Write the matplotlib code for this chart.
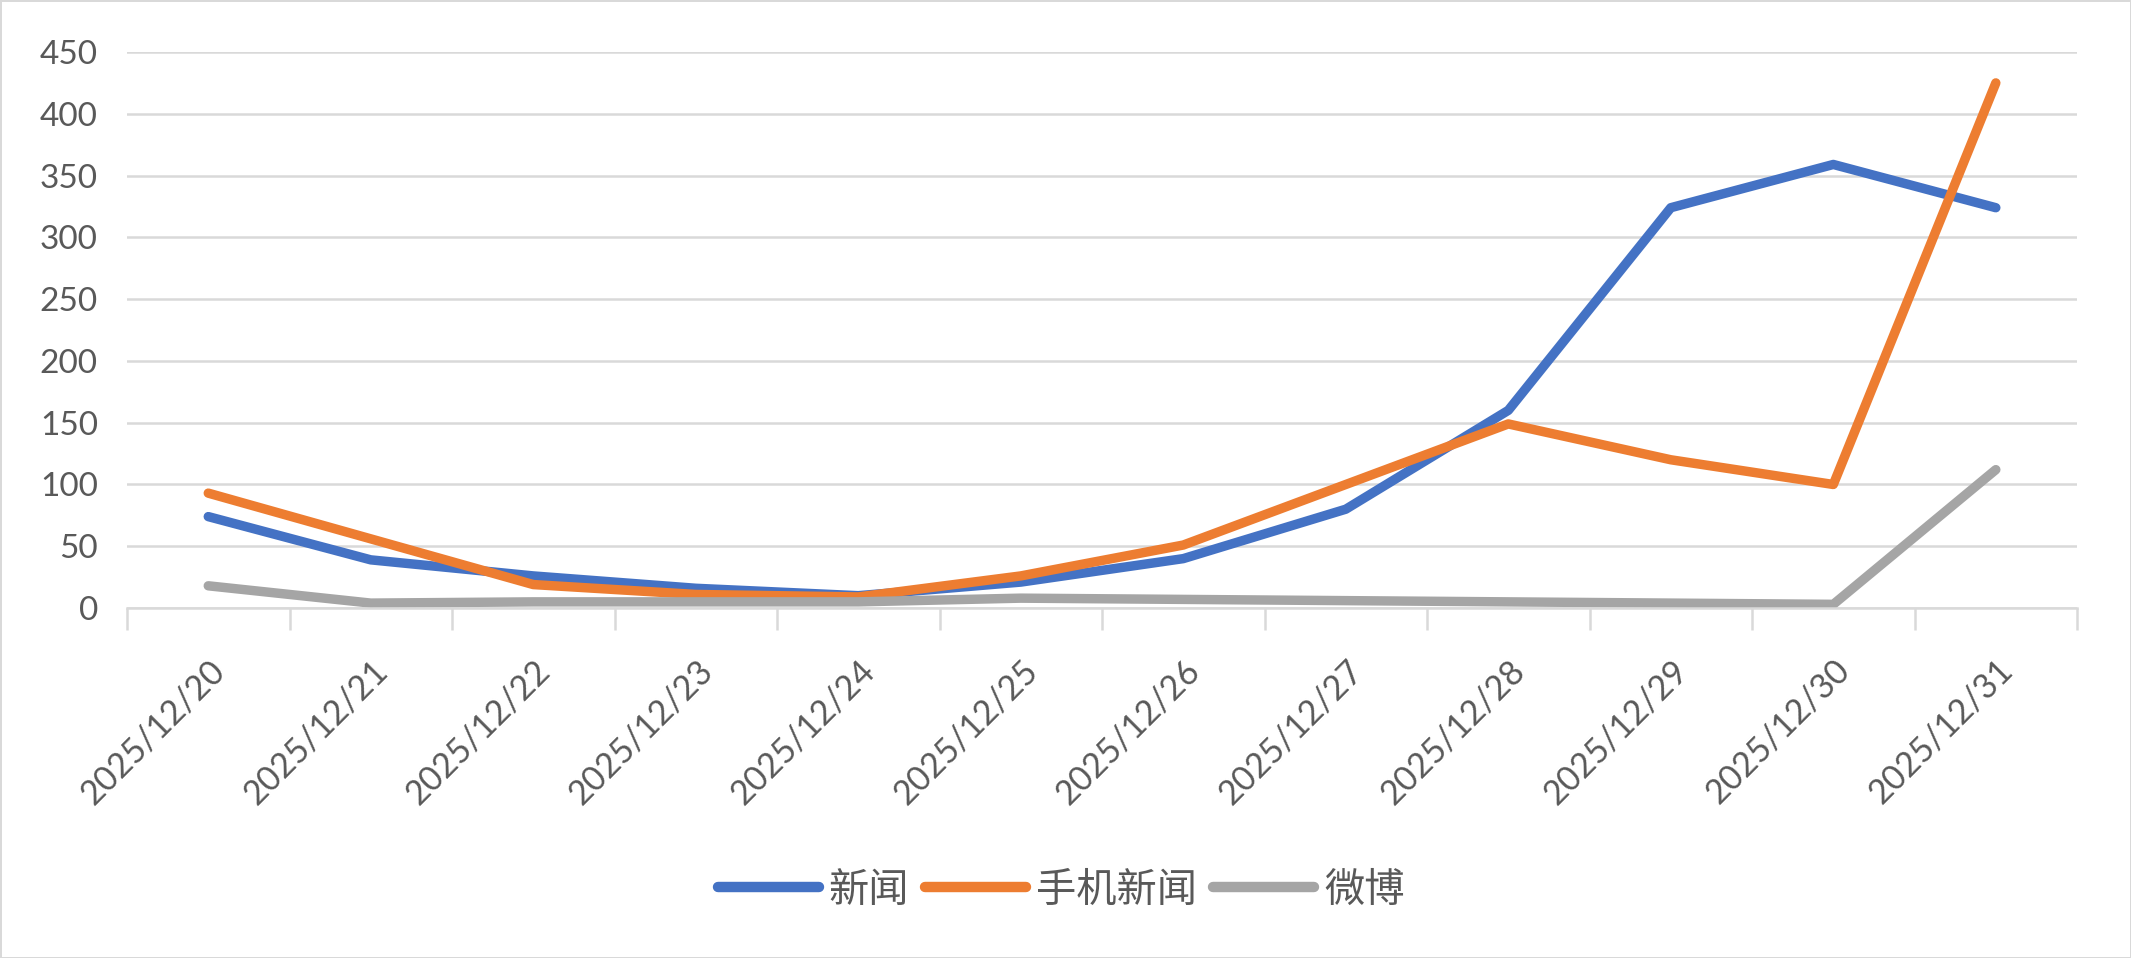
import matplotlib
matplotlib.use("Agg")
import matplotlib.pyplot as plt
from matplotlib.ticker import FixedLocator, NullFormatter

plt.rcParams['font.family'] = ['Lato', 'Noto Sans CJK SC', 'DejaVu Sans']

dates = ["2025/12/20", "2025/12/21", "2025/12/22", "2025/12/23", "2025/12/24", "2025/12/25",
         "2025/12/26", "2025/12/27", "2025/12/28", "2025/12/29", "2025/12/30", "2025/12/31"]
news = [74, 39, 26, 16, 10, 21, 40, 80, 160, 324, 359, 324]
mobile_news = [93, 56, 19, 11, 9, 26, 51, 100, 149, 120, 100, 425]
weibo = [18, 4, 5, 5, 5, 8, 7, 6, 5, 4, 3, 112]
yticks = [0, 50, 100, 150, 200, 250, 300, 350, 400, 450]

series = [("新闻", news, "#4472C4"),
          ("手机新闻", mobile_news, "#ED7D31"),
          ("微博", weibo, "#A5A5A5")]

fig = plt.figure(figsize=(21.31, 9.58), dpi=100)
fig.patch.set_facecolor("white")
fig.patch.set_edgecolor("#D9D9D9")
fig.patch.set_linewidth(2)

ax = fig.add_axes([0.0596, 0.3653, 0.9151, 0.5804])
x = list(range(len(dates)))
for name, vals, col in series:
    ax.plot(x, vals, color=col, lw=6.8, solid_capstyle="round",
            solid_joinstyle="round", label=name)

ax.set_xlim(-0.5, len(dates) - 0.5)
ax.set_ylim(0, 450)
ax.set_yticks(yticks)
ax.yaxis.grid(True, color="#D9D9D9", lw=1.8)
ax.set_axisbelow(True)
for s in ["left", "right", "top"]:
    ax.spines[s].set_visible(False)
ax.spines["bottom"].set_color("#D9D9D9")
ax.spines["bottom"].set_linewidth(1.8)

ax.set_xticks(x)
ax.set_xticklabels(dates, rotation=45, ha="right", rotation_mode="anchor")
ax.xaxis.set_minor_locator(FixedLocator([i - 0.5 for i in range(len(dates) + 1)]))
ax.xaxis.set_minor_formatter(NullFormatter())
ax.tick_params(axis="x", which="major", length=0, pad=33, labelsize=24.5, labelcolor="#595959")
ax.tick_params(axis="x", which="minor", length=16, width=1.8, color="#D9D9D9")
ax.tick_params(axis="y", length=0, pad=21, labelsize=24, labelcolor="#595959")

leg = fig.legend(loc="center", bbox_to_anchor=(0.498, 0.071), ncol=3, frameon=False,
                 fontsize=29, handlelength=2.5, handletextpad=0.25, columnspacing=0.4)
for t in leg.get_texts():
    t.set_color("#595959")
for h in leg.get_lines():
    h.set_linewidth(7.5)

fig.savefig("out.png", dpi=100, facecolor=fig.get_facecolor(), edgecolor=fig.get_edgecolor())
